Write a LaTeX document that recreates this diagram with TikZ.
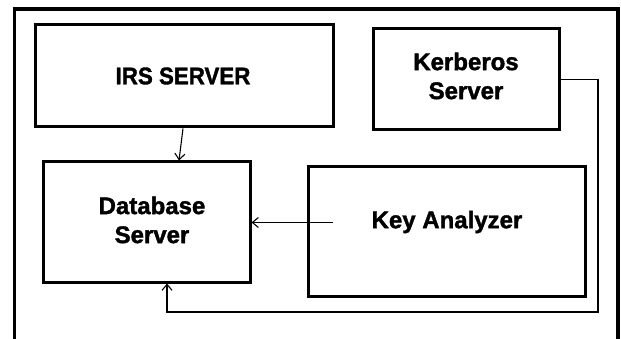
\documentclass[tikz,border=0pt]{standalone}
\usepackage{fontspec}
\setmainfont{Liberation Sans}[BoldFeatures={FakeBold=1.6}]
\usetikzlibrary{arrows.meta,calc}

\tikzset{
  box/.style={draw=black, line width=3pt, fill=none, inner sep=0pt},
  lbl/.style={font=\bfseries\fontsize{24}{29}\selectfont, align=center, inner sep=0pt},
  link/.style={draw=black, line width=1.1pt, -{Straight Barb[length=6pt,width=10pt,line width=1.1pt]}},
  frame/.style={draw=black, line width=3.4pt}
}

\begin{document}
\begin{tikzpicture}[x=1pt,y=-1pt]
  \useasboundingbox (0,0) rectangle (621,339);
  \clip (0,0) rectangle (621,339);

  % outer frame, open at the bottom edge of the page
  \draw[frame] (14.5,360) -- (14.5,9) -- (618,9) -- (618,360);

  % component boxes
  \node[box, minimum width=298pt, minimum height=102pt] (irs)  at (184,76)    {};
  \node[box, minimum width=186pt, minimum height=101pt] (kerb) at (466,79.5)  {};
  \node[box, minimum width=207pt, minimum height=120pt] (db)   at (146.5,222) {};
  \node[box, minimum width=277pt, minimum height=129pt] (key)  at (446.5,231.5) {};

  % labels
  \node[lbl] (irstxt)  at (183,76)    {\scalebox{0.93}[1]{IRS SERVER}};
  \node[lbl] (kerbtxt) at (466,76)    {Kerberos\\Server};
  \node[lbl] (dbtxt)   at (152,220)   {Database\\Server};
  \node[lbl] (keytxt)  at (447,222)   {Key Analyzer};

  % connector end points
  \coordinate (kin)  at (333,222.5);
  \coordinate (turn) at (598,312);

  % connectors
  \draw[link] ($(irs.south)+(-1,0)$) -- ($(db.north)+(32.5,0)$);
  \draw[link] (kin) -- (kin -| db.east);
  \draw[link] (kerb.east) -| (turn) -| ($(db.south)+(20.5,0)$);
\end{tikzpicture}
\end{document}
